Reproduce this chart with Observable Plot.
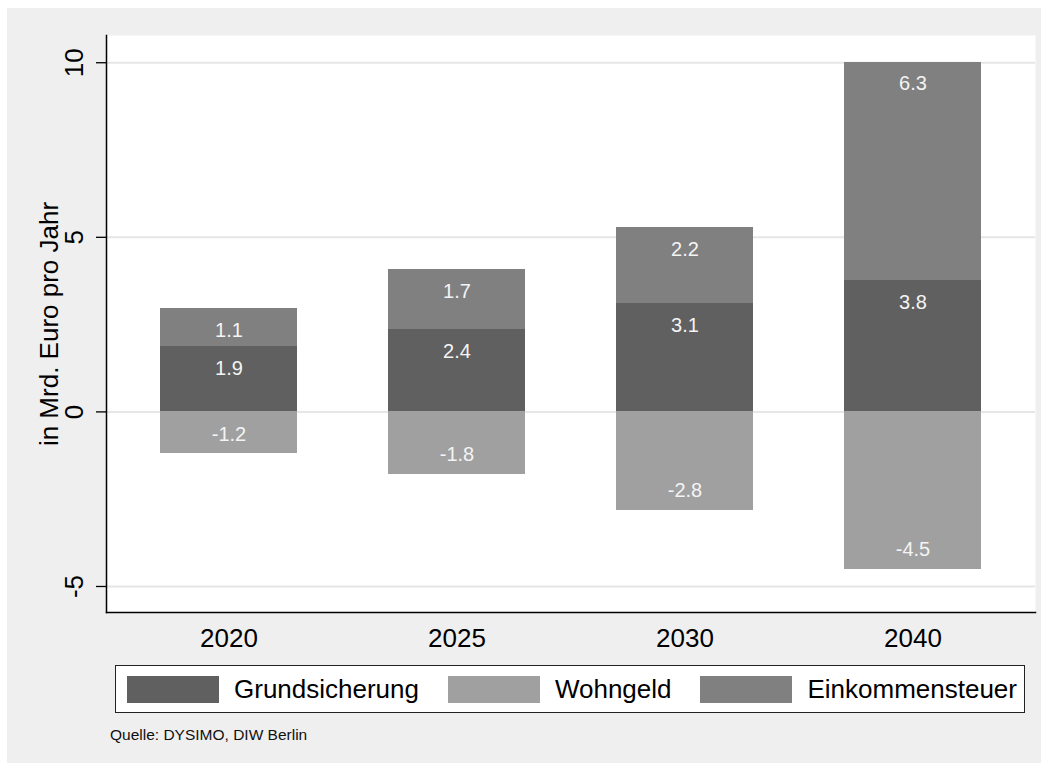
<!DOCTYPE html>
<html>
<head>
<meta charset="utf-8">
<script src="https://cdn.jsdelivr.net/npm/d3@7"></script>
<script src="https://cdn.jsdelivr.net/npm/@observablehq/plot@0.6"></script>
<style>
  html, body { margin: 0; padding: 0; background: #ffffff; }
  body { width: 1048px; height: 770px; position: relative; overflow: hidden;
         font-family: "Liberation Sans", Arial, Helvetica, sans-serif; }
  #bg { position: absolute; left: 7px; top: 8px; width: 1034px; height: 755px; background: #efefef; }
  #chart { position: absolute; left: 0; top: 0; }
  #legend { position: absolute; left: 115px; top: 665px; width: 910px; height: 48px;
            background: #ffffff; border: 1.3px solid #222; display: flex; align-items: center;
            justify-content: space-between; padding: 0 7px 0 11px; box-sizing: border-box; }
  #legend .item { display: flex; align-items: center; }
  #legend .sw { width: 92px; height: 27px; margin-right: 15px; }
  #legend .lb { font-size: 26px; color: #000; line-height: 1; white-space: nowrap; }
  #caption { position: absolute; left: 110px; top: 726px; font-size: 15.5px; color: #111; }
</style>
</head>
<body>
<div id="bg"></div>
<div id="chart"></div>
<div id="legend"></div>
<div id="caption">Quelle: DYSIMO, DIW Berlin</div>
<script>
// ---- data ----
const years = ["2020", "2025", "2030", "2040"];
const seriesNames = ["Grundsicherung", "Wohngeld", "Einkommensteuer"];
const seriesColors = ["#606060", "#a0a0a0", "#808080"];
const grundsicherung = [1.87, 2.36, 3.11, 3.76];
const wohngeld = [-1.19, -1.78, -2.81, -4.50];
const einkommensteuer = [1.09, 1.72, 2.17, 6.26];
const yTicks = [-5, 0, 5, 10];
const yLabel = "in Mrd. Euro pro Jahr";

const values = [grundsicherung, wohngeld, einkommensteuer];
const data = [];
years.forEach((yr, i) => {
  seriesNames.forEach((s, j) => data.push({year: yr, series: s, value: values[j][i]}));
});
const stackOrder = ["Grundsicherung", "Einkommensteuer", "Wohngeld"];
const fmt = v => v.toFixed(1);

const plot = Plot.plot({
  width: 1048,
  height: 660,
  marginLeft: 106,
  marginRight: 13,
  marginTop: 35,
  marginBottom: 48,
  style: {background: "none", fontSize: "26px", fontFamily: "'Liberation Sans', Arial, Helvetica, sans-serif", color: "#000"},
  x: {domain: years, paddingInner: 0.4, paddingOuter: 0.233, label: null},
  y: {domain: [-5.745, 10.78], label: null},
  color: {domain: seriesNames, range: seriesColors},
  marks: [
    Plot.frame({fill: "#ffffff", stroke: "none"}),
    Plot.gridY(yTicks, {stroke: "#e6e6e6", strokeOpacity: 1, strokeWidth: 2}),
    Plot.barY(data, {x: "year", y: "value", fill: "series", z: "series", order: stackOrder, shapeRendering: "crispEdges"}),
    Plot.text(data, Plot.stackY2({
      x: "year", y: "value", z: "series", order: stackOrder,
      filter: d => d.value > 0,
      text: d => fmt(d.value), fill: "#f4f4f4", fontSize: 20, dy: 22
    })),
    Plot.text(data, Plot.stackY2({
      x: "year", y: "value", z: "series", order: stackOrder,
      filter: d => d.value < 0,
      text: d => fmt(d.value), fill: "#f4f4f4", fontSize: 20, dy: -19
    })),
    Plot.axisY(yTicks, {tickSize: 10, tickPadding: 14, tickRotate: -90, stroke: "#000", strokeWidth: 1.3,
      tickFormat: d => String(d), label: null}),
    Plot.text([yLabel], {frameAnchor: "left", rotate: -90, dx: -67, lineAnchor: "top",
      textAnchor: "middle", fontSize: 26, fill: "#000"}),
    Plot.axisX({tickSize: 0, tickPadding: 16}),
    Plot.frame({anchor: "left", stroke: "#000", strokeWidth: 1.5}),
    Plot.frame({anchor: "bottom", stroke: "#000", strokeWidth: 1.5})
  ]
});
document.getElementById("chart").appendChild(plot);

// ---- legend ----
const legend = d3.select("#legend");
seriesNames.forEach((s, i) => {
  const it = legend.append("div").attr("class", "item");
  it.append("div").attr("class", "sw").style("background", seriesColors[i]);
  it.append("div").attr("class", "lb").text(s);
});
</script>
</body>
</html>
